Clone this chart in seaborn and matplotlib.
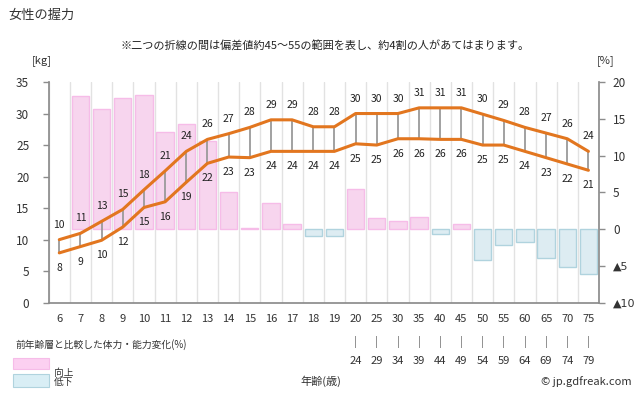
import numpy as np
import pandas as pd
import matplotlib
matplotlib.use("Agg")
import matplotlib.pyplot as plt
import seaborn as sns
from matplotlib.patches import Rectangle

# ---------------- data ----------------
ages = ["6", "7", "8", "9", "10", "11", "12", "13", "14", "15", "16", "17", "18", "19",
        "20", "25", "30", "35", "40", "45", "50", "55", "60", "65", "70", "75"]
ages_end = ["24", "29", "34", "39", "44", "49", "54", "59", "64", "69", "74", "79"]
upper = [10, 11, 12.9, 14.8, 17.9, 20.9, 24, 25.9, 26.8, 27.8, 29, 29, 27.9, 27.9,
         30, 30, 30, 30.9, 30.9, 30.9, 29.9, 28.9, 27.8, 26.9, 26, 24]
lower = [7.9, 8.9, 9.9, 12, 15.1, 16, 19.1, 22.1, 23.1, 23, 24, 24, 24, 24,
         25.2, 25, 26, 26, 25.9, 25.9, 25, 25, 24, 23, 22, 21]
change = [np.nan, 18.1, 16.3, 17.8, 18.3, 13.2, 14.3, 12.0, 5.1, 0.2, 3.6, 0.7, -1.0, -1.0,
          5.5, 1.5, 1.1, 1.7, -0.6, 0.7, -4.2, -2.2, -1.8, -3.9, -5.1, -6.1]
right_ticks = [-10, -5, 0, 5, 10, 15, 20]
right_ticklabels = ["▲10", "▲5", "0", "5", "10", "15", "20"]
left_ticks = [0, 5, 10, 15, 20, 25, 30, 35]

PINK, PINK_E = "#FCD0F1", "#F6BCE8"
BLUE, BLUE_E = "#D9EEF5", "#B0D3DE"
ORANGE = "#E2761F"
GRAYV = "#9A9A9A"
AXC = "#8C8C8C"
TXT = "#333333"

sns.set_theme(style="white")
plt.rcParams["font.family"] = ["Noto Sans CJK JP", "DejaVu Sans"]

W, H = 640, 396
fig = plt.figure(figsize=(6.4, 3.96), dpi=100)
ax = fig.add_axes([48.7 / W, 1 - 302.7 / H, (599 - 48.7) / W, (302.7 - 82) / H])

df = pd.DataFrame({"age": ages, "change": change})
df["dir"] = np.where(df["change"] < 0, "down", "up")
sns.barplot(data=df, x="age", y="change", hue="dir", order=ages, hue_order=["up", "down"],
            palette={"up": PINK, "down": BLUE}, dodge=False, width=0.82, legend=False,
            errorbar=None, linewidth=1, ax=ax)
for p in ax.patches:
    h = p.get_height()
    if np.isnan(h):
        continue
    p.set_edgecolor(PINK_E if h >= 0 else BLUE_E)
    p.set_zorder(1)

ax.set_xlim(-0.5, 25.5)
ax.set_ylim(-10, 20)
ax.set_xlabel("")
ax.set_ylabel("")

ax2 = ax.twinx()
ax2.set_ylim(0, 35)
x = np.arange(len(ages))
ax2.vlines(x, lower, upper, color=GRAYV, lw=1.3, zorder=2)
sns.lineplot(x=x, y=upper, ax=ax2, color=ORANGE, lw=2.2, zorder=3)
sns.lineplot(x=x, y=lower, ax=ax2, color=ORANGE, lw=2.2, zorder=3)
ax2.set_xlabel("")
ax2.set_ylabel("")
for i, v in enumerate(upper):
    ax2.annotate(f"{v:.0f}", (i, v), xytext=(0, 15), textcoords="offset pixels",
                 ha="center", va="center", fontsize=7.5, color="#222222")
for i, v in enumerate(lower):
    ax2.annotate(f"{v:.0f}", (i, v), xytext=(0, -15), textcoords="offset pixels",
                 ha="center", va="center", fontsize=7.5, color="#222222")

# axes styling
ax.yaxis.tick_right()
ax.set_yticks(right_ticks)
ax.set_yticklabels(right_ticklabels, fontsize=8.5, color=TXT)
for t in ax.get_yticklabels():
    if "▲" in t.get_text():
        t.set_fontfamily(["DejaVu Sans"])
        t.set_fontsize(8)
ax.tick_params(axis="y", direction="out", length=4, width=1, color=AXC, pad=6)
ax2.yaxis.tick_left()
ax2.set_yticks(left_ticks)
ax2.set_yticklabels([str(t) for t in left_ticks], fontsize=8.5, color=TXT)
ax2.tick_params(axis="y", direction="out", length=4, width=1, color=AXC, pad=10)

ax.set_xticks(np.arange(-0.5, 26, 1))
ax.set_xticklabels([])
ax.set_xticks(x, minor=True)
ax.set_xticklabels(ages, minor=True, fontsize=8, color=TXT)
ax.tick_params(axis="x", which="major", direction="out", length=4, width=1, color=AXC)
ax.tick_params(axis="x", which="minor", length=0, pad=8)
ax.grid(False)
ax.grid(axis="x", which="major", color="#E2E2E2", lw=1)
ax.set_axisbelow(True)
ax2.grid(False)

for s in ["top", "left"]:
    ax.spines[s].set_visible(False)
for s in ["bottom", "right"]:
    ax.spines[s].set_color(AXC)
for s in ["top", "right", "bottom"]:
    ax2.spines[s].set_visible(False)
ax2.spines["left"].set_color(AXC)

for k, lab in enumerate(ages_end):
    i = 14 + k
    ax.annotate("|", xy=(i, 0), xycoords=("data", "axes fraction"), xytext=(0, -39),
                textcoords="offset pixels", ha="center", va="center", fontsize=7, color="#555555")
    ax.annotate(lab, xy=(i, 0), xycoords=("data", "axes fraction"), xytext=(0, -58.6),
                textcoords="offset pixels", ha="center", va="center", fontsize=8, color=TXT)

def ft(xp, yp, s, **kw):
    fig.text(xp / W, 1 - yp / H, s, **kw)

ft(8, 15, "女性の握力", ha="left", va="center", fontsize=9.5, color=TXT)
ft(325, 46, "※二つの折線の間は偏差値約45～55の範囲を表し、約4割の人があてはまります。",
   ha="center", va="center", fontsize=8, color="#222222")
ft(42, 61, "[kg]", ha="center", va="center", fontsize=8, color=TXT)
ft(606, 61, "[%]", ha="center", va="center", fontsize=8, color=TXT)
ft(15, 345, "前年齢層と比較した体力・能力変化(%)", ha="left", va="center", fontsize=7, color=TXT)
fig.add_artist(Rectangle((13.3 / W, 1 - 369 / H), 35.7 / W, 10.7 / H, transform=fig.transFigure,
                         facecolor=PINK, edgecolor=PINK_E, lw=0.8))
fig.add_artist(Rectangle((13.3 / W, 1 - 386.7 / H), 35.7 / W, 12.4 / H, transform=fig.transFigure,
                         facecolor=BLUE, edgecolor=BLUE_E, lw=0.8))
ft(54, 373, "向上", ha="left", va="center", fontsize=7, color=TXT)
ft(54, 382, "低下", ha="left", va="center", fontsize=7, color=TXT)
ft(321, 381.7, "年齢(歳)", ha="center", va="center", fontsize=8, color=TXT)
ft(632, 381.7, "© jp.gdfreak.com", ha="right", va="center", fontsize=8, color=TXT)

fig.savefig("out.png", dpi=100, facecolor="white")
